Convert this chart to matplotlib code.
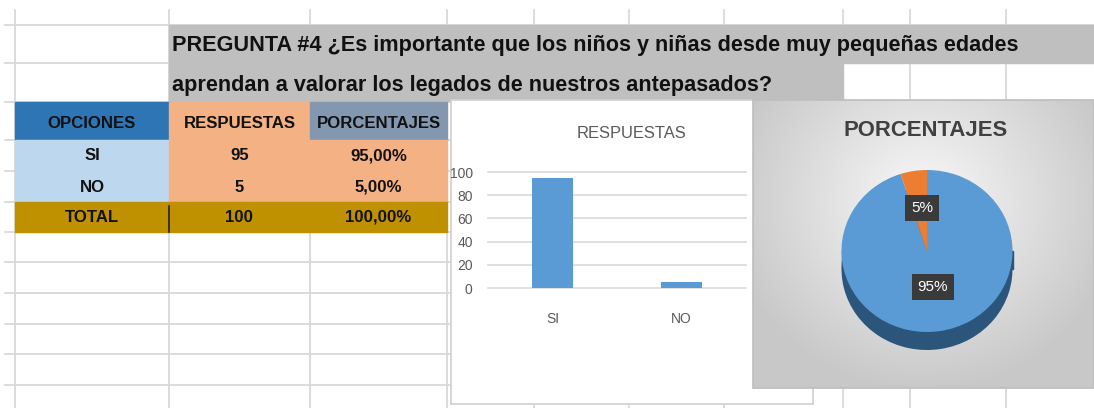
import numpy as np
import matplotlib
matplotlib.use("Agg")
import matplotlib.pyplot as plt
from matplotlib.patches import Rectangle

# data from the sheet
opciones = ["SI", "NO"]
respuestas = [95, 5]
porcentajes = ["95,00%", "5,00%"]
total_resp = "100"
total_pct = "100,00%"
pie_labels = ["95%", "5%"]
titulo1 = "PREGUNTA #4 ¿Es importante que los niños y niñas desde muy pequeñas edades"
titulo2 = "aprendan a valorar los legados de nuestros antepasados?"

FONT = ["Liberation Sans", "DejaVu Sans"]
W, H = 1094, 408

fig = plt.figure(figsize=(W / 100, H / 100), dpi=100)
bg = fig.add_axes([0, 0, 1, 1])
bg.set_xlim(0, W)
bg.set_ylim(H, 0)
bg.axis("off")
rend = fig.canvas.get_renderer()

def px_axes(x0, y0, x1, y1):
    # pixel box -> figure axes
    return fig.add_axes([x0 / W, (H - y1) / H, (x1 - x0) / W, (y1 - y0) / H])

def fit(t, width):
    # shrink/grow a text so it spans the width seen in the screenshot
    w = t.get_window_extent(rend).width
    t.set_fontsize(t.get_fontsize() * width / w)
    return t.get_fontsize()

# spreadsheet grid
grid_c = "#d6d6d6"
for x in [15, 169, 310, 447, 534, 629, 724, 843, 910, 1006]:
    bg.plot([x, x], [10, H], color=grid_c, lw=1.2, zorder=1)
for y in [25, 63, 102, 140, 171, 202, 232, 262, 293, 324, 354, 385]:
    bg.plot([5, W], [y, y], color=grid_c, lw=1.2, zorder=1)

# question banner
bg.add_patch(Rectangle((169, 25), W - 169, 38, color="#bfbfbf", zorder=2))
bg.add_patch(Rectangle((169, 63), 843 - 169, 38, color="#bfbfbf", zorder=2))
t1 = bg.text(172, 46, titulo1, family=FONT, weight="bold", fontsize=15, va="center", ha="left", color="#111111", zorder=3)
fs = fit(t1, 850)
bg.text(172, 85, titulo2, family=FONT, weight="bold", fontsize=fs, va="center", ha="left", color="#111111", zorder=3)

# table
cols = [(15, 169), (169, 310), (310, 447)]
head_cols = ["#2e75b6", "#f4b183", "#8497b0"]
heads = ["OPCIONES", "RESPUESTAS", "PORCENTAJES"]
probe = bg.text(0, 0, "PORCENTAJES", family=FONT, weight="bold", fontsize=12)
tfs = fit(probe, 124)
probe.remove()
for (x0, x1), c, t in zip(cols, head_cols, heads):
    bg.add_patch(Rectangle((x0, 102), x1 - x0, 38, color=c, zorder=2))
    bg.text((x0 + x1) / 2, 123, t, family=FONT, weight="bold", fontsize=tfs, ha="center", va="center", color="#111111", zorder=3)

bg.add_patch(Rectangle((15, 140), 154, 62, color="#bdd7ee", zorder=2))
bg.add_patch(Rectangle((169, 140), 278, 62, color="#f4b183", zorder=2))
row_y = [156, 187]
for y, o, r, p in zip(row_y, opciones, respuestas, porcentajes):
    for (x0, x1), t in zip(cols, [o, str(r), p]):
        bg.text((x0 + x1) / 2, y, t, family=FONT, weight="bold", fontsize=tfs, ha="center", va="center", color="#111111", zorder=3)

bg.add_patch(Rectangle((15, 202), 432, 30, color="#bf9000", zorder=2))
bg.plot([169, 169], [206, 232], color="#222222", lw=1.2, zorder=3)
for (x0, x1), t in zip(cols, ["TOTAL", total_resp, total_pct]):
    bg.text((x0 + x1) / 2, 217, t, family=FONT, weight="bold", fontsize=tfs, ha="center", va="center", color="#111111", zorder=3)

# bar chart frame
bg.add_patch(Rectangle((451, 100), 813 - 451, 304, facecolor="white", edgecolor="#d0d0d0", lw=1.2, zorder=4))
bt = bg.text(632, 133, "RESPUESTAS", family=FONT, fontsize=14, ha="center", va="center", color="#595959", zorder=5)
fit(bt, 110)

# pie chart frame with soft gradient
bx0, bx1, by0, by1 = 753, W, 100, 388
gx, gy = np.meshgrid(np.linspace(-1, 1, 200), np.linspace(-1, 1, 200))
r = np.clip(np.sqrt((gx * 0.85) ** 2 + ((gy + 0.3) * 0.75) ** 2), 0, 1)
shade = 0.975 - 0.19 * r
img = np.dstack([shade, shade, shade])
bg.imshow(img, extent=(bx0, bx1, by1, by0), aspect="auto", zorder=6, interpolation="bilinear")
bg.add_patch(Rectangle((bx0, by0), bx1 - bx0, by1 - by0, fill=False, edgecolor="#bdbdbd", lw=1.2, zorder=7))
pt = bg.text(926, 131, "PORCENTAJES", family=FONT, weight="bold", fontsize=16, ha="center", va="center", color="#404040", zorder=8)
fit(pt, 165)

# bar chart
ax = px_axes(488, 172, 746, 288)
ax.set_facecolor("none")
x = np.arange(len(opciones))
ax.set_axisbelow(True)
ax.yaxis.grid(True, color="#d9d9d9", lw=1.2)
ax.bar(x, respuestas, width=0.32, color="#5b9bd5", zorder=3)
ax.set_xlim(-0.5, 1.5)
ax.set_ylim(0, 100)
ax.set_yticks([0, 20, 40, 60, 80, 100])
ax.set_xticks(x)
ax.set_xticklabels(opciones)
for s in ax.spines.values():
    s.set_visible(False)
ax.tick_params(length=0, colors="#595959", labelsize=10)
ax.tick_params(axis="x", pad=17)
ax.tick_params(axis="y", pad=11)
for lab in ax.get_xticklabels() + ax.get_yticklabels():
    lab.set_family(FONT)
for gl in ax.yaxis.get_gridlines():
    gl.set_clip_on(False)

# 3d-ish pie
rx, ry, cx, cy = 85.5, 81, 927, 251
pa = px_axes(cx - 1.2 * rx, cy - 1.2 * ry, cx + 1.2 * rx, cy + 1.45 * ry)
pa.set_facecolor("none")
depth = 18 / ry
pa.pie(respuestas, colors=["#2c557c", "#a0521e"], startangle=90, counterclock=False, center=(0, -depth))
pa.add_patch(Rectangle((-1, -depth), 2, depth, color="#2c557c"))
pa.pie(respuestas, colors=["#5b9bd5", "#ed7d31"], startangle=90, counterclock=False)
pa.set_aspect("auto")
pa.set_xlim(-1.2, 1.2)
pa.set_ylim(-1.45, 1.2)
pa.axis("off")
label_pos = [(0.07, -0.44), (-0.06, 0.53)]
for (lx, ly), t in zip(label_pos, pie_labels):
    pa.text(lx, ly, t, family=FONT, fontsize=11, color="white", ha="center", va="center",
            bbox=dict(boxstyle="square,pad=0.4", fc="#3a3a3a", ec="none"))

fig.savefig("out.png", dpi=100)
